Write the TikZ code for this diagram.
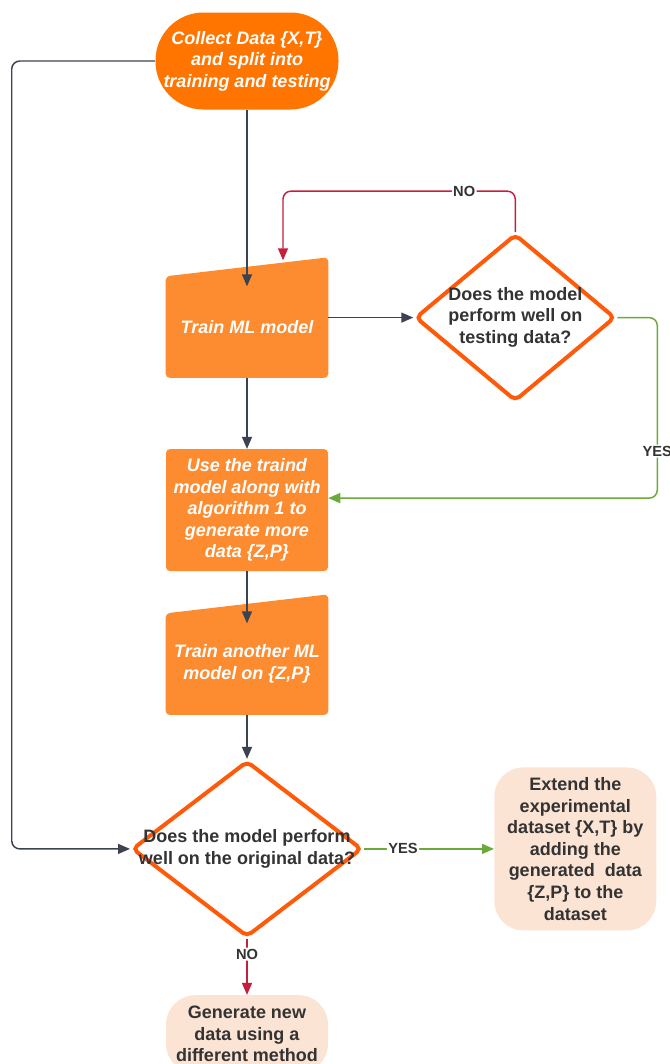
\documentclass[tikz,border=0pt]{standalone}
\usepackage{fontspec}
\setmainfont{Liberation Sans}
\usetikzlibrary{arrows.meta,positioning,shapes.geometric,calc,backgrounds}

\definecolor{startorange}{HTML}{FF7500}
\definecolor{boxorange}{HTML}{FD8B30}
\definecolor{rimorange}{HTML}{FF5A0A}
\definecolor{peach}{HTML}{FCE4D5}
\definecolor{inkgray}{HTML}{333333}
\definecolor{linegray}{HTML}{3C4350}
\definecolor{nored}{HTML}{C41F3B}
\definecolor{yesgreen}{HTML}{69AA3B}

\newcommand{\dtext}[1]{\makebox[0pt]{\begin{tabular}{@{}c@{}}#1\end{tabular}}}

\begin{document}
\begin{tikzpicture}[
  x=0.75pt, y=-0.75pt,
  whitetext/.style={text=white, font=\fontsize{13.5}{16.2}\selectfont\bfseries\itshape},
  darktext/.style={text=inkgray, font=\fontsize{13.5}{16.2}\selectfont\bfseries},
  terminal/.style={whitetext, fill=startorange, rounded corners=36pt, minimum width=137.25pt, minimum height=72.75pt, align=center},
  procbox/.style={whitetext, fill=boxorange, rounded corners=3pt, minimum width=121.5pt, align=center},
  slantbox/.style={whitetext, minimum width=121.5pt, minimum height=75.75pt, align=center},
  decision/.style={darktext, diamond, draw=rimorange, line width=3pt, rounded corners=4pt, inner sep=0pt},
  endbox/.style={darktext, fill=peach, rounded corners=22pt, minimum width=121.5pt, align=center},
  arr/.style={-{Triangle[length=9pt,width=7.5pt]}, line width=1.1pt, draw=linegray, rounded corners=6pt},
  noarr/.style={arr, draw=nored},
  yesarr/.style={arr, draw=yesgreen},
  lbl/.style={fill=white, text=inkgray, font=\fontsize{11}{13}\selectfont\bfseries, inner sep=1pt}
]
\useasboundingbox (0,0) rectangle (670,1064);
\clip (0,0) rectangle (670,1064);

% Main column
\node[terminal] (collect) at (247,61) {Collect Data \{X,T\}\\and split into\\training and testing};
\node[slantbox, below=124.9pt of collect] (train) {Train ML model};
\node[procbox, below=53.25pt of train, minimum height=91.5pt] (use) {Use the traind\\model along with\\algorithm 1 to\\generate more\\data \{Z,P\}};
\node[slantbox, below=31.5pt of use] (trainz) {Train another ML\\model on \{Z,P\}};
\node[decision, below=33pt of trainz, minimum width=172.5pt, minimum height=132pt] (check) {\dtext{Does the model perform\\well on the original data?}};
\node[endbox, below=42pt of check, minimum height=58.5pt] (generate) {Generate new\\data using a\\different method};

% Side branches
\node[decision, right=63.75pt of train, yshift=7.1pt, minimum width=150pt, minimum height=125.25pt] (test) {\dtext{Does the model\\perform well on\\testing data?}};
\node[endbox, right=97.5pt of check, minimum height=122.25pt] (extend) {Extend the\\experimental\\dataset \{X,T\} by\\adding the\\generated\ \ data\\\{Z,P\} to the\\dataset};

% Slanted tops of the training boxes
\begin{scope}[on background layer]
\foreach \n in {train,trainz}
  \fill[boxorange, rounded corners=3pt] (\n.south west) -- (\n.north west) -- ($(\n.north east)+(0,-19)$) -- (\n.south east) -- cycle;
\end{scope}

% Arrows
\draw[arr, shorten >=-7.5pt] (collect) -- (train);
\draw[arr] (test.west -| train.east) -- (test.west);
\coordinate (noin) at ($(train.north)+(36,-16)$);
\draw[noarr] (test.north) -- ++(0,-41) -| node[lbl, pos=0.11] {NO} (noin);
\coordinate (yesin) at ($(use.east)+(0,-12)$);
\draw[yesarr] (test.east) -- ++(40,0) |- node[lbl, pos=0.37] {YES} (yesin);
\draw[arr] (train) -- (use);
\draw[arr, shorten >=-7.5pt] (use) -- (trainz);
\draw[arr] (trainz) -- (check);
\draw[arr] (collect.west) -- ++(-143.5,0) |- (check.west);
\draw[yesarr] (check.east) -- node[lbl, pos=0.3] {YES} (extend.west);
\draw[noarr] (check.south) -- node[lbl, pos=0.27] {NO} (generate.north);

\end{tikzpicture}
\end{document}
